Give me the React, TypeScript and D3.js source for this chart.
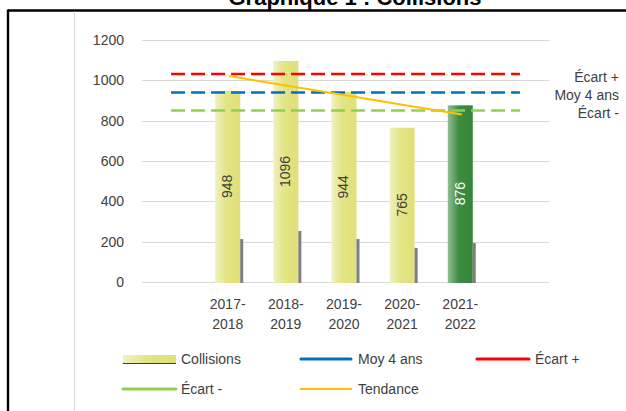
import React from 'react';
import * as d3 from 'd3';

// categories (first and last are empty slots on the axis)
const categories = ['', '2017-2018', '2018-2019', '2019-2020', '2020-2021', '2021-2022', ''];
const collisions = [948, 1096, 944, 765, 876];
const shadowValues = [213, 253, 213, 169, 193];
const moy4ans = [940, 940, 940, 940, 940, 940, 940];
const ecartPlus = [1031, 1031, 1031, 1031, 1031, 1031, 1031];
const ecartMoins = [851, 851, 851, 851, 851, 851, 851];
const tendance = [1021, 973, 926, 878, 831];
const yTicks = [0, 200, 400, 600, 800, 1000, 1200];

const FONT = '"Liberation Sans", Arial, sans-serif';
const TXT = '#404040';

const App = () => {
  const width = 626;
  const height = 411;

  const x = d3.scaleBand<number>()
    .domain(d3.range(categories.length))
    .range([142, 549])
    .padding(0);
  const y = d3.scaleLinear().domain([0, 1200]).range([282, 40]);

  const cx = (i: number) => (x(i) as number) + x.bandwidth() / 2;
  const barW = 25;
  const shW = 3;

  const line = d3.line<number>()
    .x((_, i) => cx(i))
    .y(d => y(d));
  const trendLine = d3.line<number>()
    .x((_, i) => cx(i + 1))
    .y(d => y(d));

  const lines = [
    { data: ecartPlus, color: '#FF0000', label: 'Écart +' },
    { data: moy4ans, color: '#0070C0', label: 'Moy 4 ans' },
    { data: ecartMoins, color: '#92D050', label: 'Écart -' },
  ];

  return (
    <div>
      <style>{`body{margin:0;}`}</style>
      <svg width={width} height={height} style={{ display: 'block', fontFamily: FONT }}>
        <defs>
          <linearGradient id="gYellow" x1="0" x2="1" y1="0" y2="0">
            <stop offset="0" stopColor="#F0F1C2" />
            <stop offset="0.45" stopColor="#E3E483" />
            <stop offset="1" stopColor="#E0E07A" />
          </linearGradient>
          <linearGradient id="gGreen" x1="0" x2="1" y1="0" y2="0">
            <stop offset="0" stopColor="#93BE93" />
            <stop offset="0.45" stopColor="#3D8C42" />
            <stop offset="1" stopColor="#34843A" />
          </linearGradient>
        </defs>
        <rect width={width} height={height} fill="#fff" />

        {/* title, cut by the top edge */}
        <text x={355} y={5} textAnchor="middle" fontWeight="bold" fontSize={22} fill="#000">
          Graphique 1 : Collisions
        </text>

        {/* frame */}
        <line x1={8} x2={626} y1={10.5} y2={10.5} stroke="#000" strokeWidth={2.4} />
        <line x1={8} x2={8} y1={9.5} y2={411} stroke="#000" strokeWidth={2.4} />
        <line x1={74.5} x2={74.5} y1={11.5} y2={411} stroke="#D9D9D9" strokeWidth={1} />

        {/* grid + y ticks */}
        {yTicks.map(t => (
          <g key={t}>
            <line x1={142} x2={549} y1={Math.round(y(t)) + 0.5} y2={Math.round(y(t)) + 0.5} stroke="#D9D9D9" strokeWidth={1.2} />
            <text x={124} y={y(t)} dy="0.35em" textAnchor="end" fontSize={14} fill={TXT}>{t}</text>
          </g>
        ))}

        {/* bars */}
        {collisions.map((v, i) => {
          const c = cx(i + 1);
          const left = c - (barW + shW) / 2;
          const last = i === collisions.length - 1;
          return (
            <g key={i}>
              <rect x={left} y={y(v)} width={barW} height={y(0) - y(v) + 1} fill={last ? 'url(#gGreen)' : 'url(#gYellow)'} />
              <rect x={left + barW} y={y(shadowValues[i])} width={shW} height={y(0) - y(shadowValues[i]) + 1} fill="#7F7F7F" />
            </g>
          );
        })}

        {/* reference lines */}
        {lines.map(l => (
          <path key={l.label} d={line(l.data) || ''} fill="none" stroke={l.color} strokeWidth={2.5} strokeDasharray="14 6" />
        ))}
        <path d={trendLine(tendance) || ''} fill="none" stroke="#FFC000" strokeWidth={2} />

        {/* bar labels */}
        {collisions.map((v, i) => {
          const c = cx(i + 1) - shW / 2 - 0.5;
          const my = (y(v) + y(0)) / 2;
          return (
            <text key={i} transform={`translate(${c},${my}) rotate(-90)`} textAnchor="middle" dy="0.35em" fontSize={14}
              fill={i === collisions.length - 1 ? '#fff' : TXT}>{v}</text>
          );
        })}

        {/* right labels */}
        {lines.map(l => (
          <text key={l.label} x={619} y={y(l.data[0]) + 3} dy="0.35em" textAnchor="end" fontSize={14} fill={TXT}>{l.label}</text>
        ))}

        {/* x labels */}
        {categories.map((c, i) => {
          if (!c) return null;
          const [a, b] = c.split('-');
          const xc = cx(i) - shW / 2;
          return (
            <text key={i} x={xc} textAnchor="middle" fontSize={14} fill={TXT}>
              <tspan x={xc} y={309}>{a}-</tspan>
              <tspan x={xc} y={329}>{b}</tspan>
            </text>
          );
        })}

        {/* legend */}
        <g fontSize={14} fill={TXT}>
          <rect x={123} y={355} width={53} height={8} fill="url(#gYellow)" />
          <line x1={123} x2={176} y1={363.5} y2={363.5} stroke="#3F3F1F" strokeWidth={1} />
          <text x={181} y={359} dy="0.35em">Collisions</text>

          <line x1={301} x2={351} y1={359} y2={359} stroke="#0070C0" strokeWidth={3} strokeLinecap="round" />
          <text x={358} y={359} dy="0.35em">Moy 4 ans</text>

          <line x1={477} x2={529} y1={359} y2={359} stroke="#FF0000" strokeWidth={3} strokeLinecap="round" />
          <text x={535} y={359} dy="0.35em">Écart +</text>

          <line x1={123} x2={176} y1={389} y2={389} stroke="#92D050" strokeWidth={3} strokeLinecap="round" />
          <text x={181} y={389} dy="0.35em">Écart -</text>

          <line x1={300} x2={352} y1={389} y2={389} stroke="#FFC000" strokeWidth={2} />
          <text x={358} y={389} dy="0.35em">Tendance</text>
        </g>
      </svg>
    </div>
  );
};

export default App;
